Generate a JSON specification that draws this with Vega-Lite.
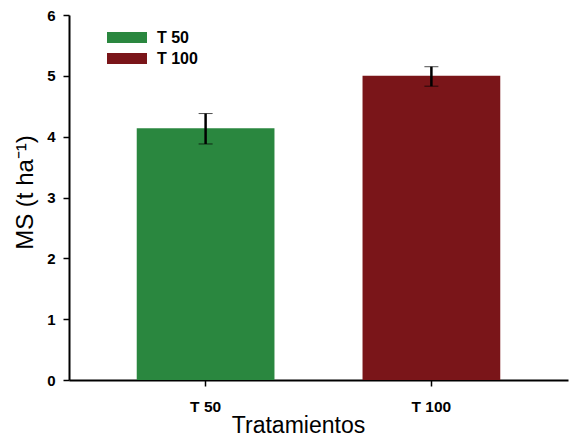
{
  "$schema": "https://vega.github.io/schema/vega-lite/v6.json",
  "autosize": {"type": "none"},
  "width": 499,
  "height": 365,
  "padding": {"left": 69, "top": 15, "right": 12, "bottom": 64},
  "background": "white",
  "config": {
    "view": {"stroke": null},
    "font": "Liberation Sans"
  },
  "data": {
    "values": [
      {"trat": "T 50", "ms": 4.14, "lo": 3.88, "hi": 4.38},
      {"trat": "T 100", "ms": 5.0, "lo": 4.83, "hi": 5.15}
    ]
  },
  "layer": [
    {
      "mark": {"type": "bar"},
      "encoding": {
        "x": {
          "field": "trat", "type": "nominal", "sort": ["T 50", "T 100"],
          "scale": {"paddingInner": 0.39, "paddingOuter": 0.3},
          "axis": {
            "title": "Tratamientos", "titleFontSize": 23, "titleFontWeight": "normal", "titleColor": "black",
            "titlePadding": 0, "titleX": 229, "titleAnchor": "middle",
            "labelAngle": 0, "labelFontSize": 15.5, "labelFontWeight": "bold", "labelColor": "black", "labelPadding": 13,
            "domainColor": "black", "domainWidth": 2, "tickColor": "black", "tickWidth": 1.5, "tickSize": 6,
            "grid": false
          }
        },
        "y": {
          "field": "ms", "type": "quantitative", "title": "MS (t ha⁻¹)",
          "scale": {"domain": [0, 6], "nice": false},
          "axis": {
            "title": "MS (t ha⁻¹)", "titleFontSize": 24, "titleFontWeight": "normal", "titleColor": "black",
            "titlePadding": 9, "titleY": 177, "titleAnchor": "middle",
            "values": [0, 1, 2, 3, 4, 5, 6], "format": "d",
            "labelFontSize": 15, "labelFontWeight": "bold", "labelColor": "black", "labelPadding": 8,
            "domainColor": "black", "domainWidth": 2, "tickColor": "black", "tickWidth": 1.5, "tickSize": 6,
            "grid": false
          }
        },
        "color": {
          "field": "trat", "type": "nominal", "sort": ["T 50", "T 100"],
          "scale": {"domain": ["T 50", "T 100"], "range": ["#2a873f", "#7a1519"]},
          "legend": {
            "title": null, "orient": "none", "legendX": 48, "legendY": 12.5,
            "padding": 0, "rowPadding": 3,
            "symbolType": "M-2,-0.55L2,-0.55L2,0.55L-2,0.55Z", "symbolSize": 400, "symbolStrokeWidth": 0,
            "symbolOpacity": 1,
            "labelFontSize": 16, "labelFontWeight": "bold", "labelColor": "black", "labelOffset": 20
          }
        }
      }
    },
    {
      "mark": {"type": "errorbar", "ticks": {"size": 14, "color": "black", "strokeWidth": 2.5}, "rule": {"color": "black", "strokeWidth": 2.5}},
      "encoding": {
        "x": {"field": "trat", "type": "nominal", "sort": ["T 50", "T 100"]},
        "y": {"field": "lo", "type": "quantitative", "title": "MS (t ha⁻¹)"},
        "y2": {"field": "hi"}
      }
    }
  ]
}
